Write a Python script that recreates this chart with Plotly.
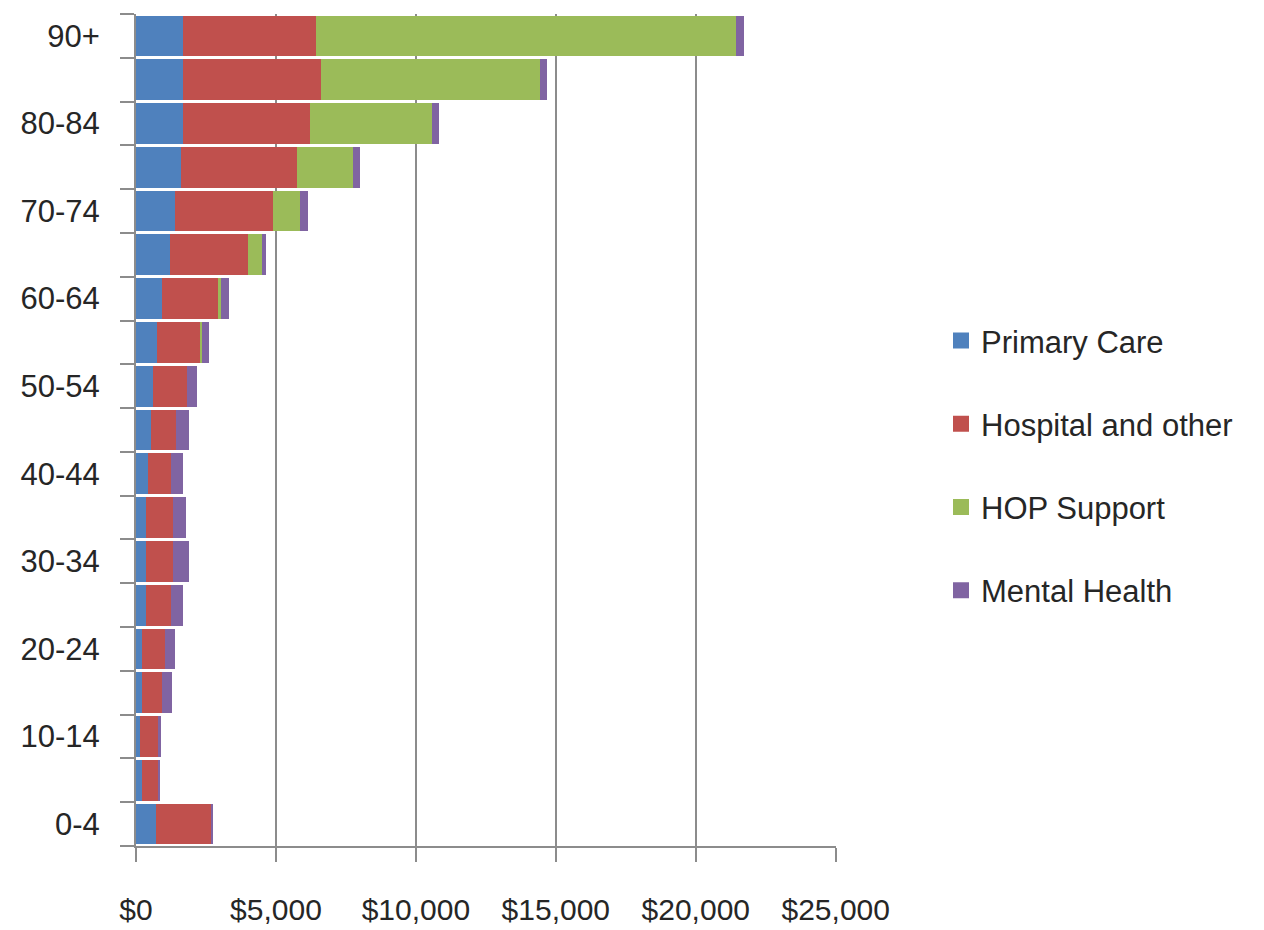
import plotly.graph_objects as go

categories = ["0-4", "5-9", "10-14", "15-19", "20-24", "25-29", "30-34", "35-39",
              "40-44", "45-49", "50-54", "55-59", "60-64", "65-69", "70-74",
              "75-79", "80-84", "85-89", "90+"]

primary_care = [710, 230, 140, 230, 230, 360, 360, 360, 440, 540, 620, 740, 920,
                1210, 1400, 1600, 1690, 1690, 1690]
hospital_other = [1970, 570, 640, 710, 810, 880, 950, 950, 800, 880, 1190, 1550,
                  2020, 2800, 3480, 4140, 4520, 4920, 4730]
hop_support = [0, 0, 0, 0, 0, 0, 0, 0, 0, 0, 0, 70, 80, 480, 980, 2020, 4350,
               7820, 15030]
mental_health = [60, 30, 110, 360, 350, 450, 580, 460, 450, 470, 360, 260, 300,
                 160, 270, 260, 270, 260, 260]

series = [
    ("Primary Care", primary_care, "#4F81BD"),
    ("Hospital and other", hospital_other, "#C0504D"),
    ("HOP Support", hop_support, "#9BBB59"),
    ("Mental Health", mental_health, "#8064A2"),
]

x_tickvals = [0, 5000, 10000, 15000, 20000, 25000]
x_ticktext = ["$0", "$5,000", "$10,000", "$15,000", "$20,000", "$25,000"]

FONT = "Liberation Sans, Arial, sans-serif"
TEXT = "#262626"
GRID = "#8C8C8C"

fig = go.Figure()
for name, vals, color in series:
    fig.add_trace(go.Bar(
        y=categories, x=vals, name=name, orientation="h",
        marker=dict(color=color, line=dict(width=0)),
        showlegend=False,
    ))
    # legend-only entry with a larger square swatch
    fig.add_trace(go.Scatter(
        x=[None], y=[None], mode="markers", name=name,
        marker=dict(symbol="square", size=16, color=color),
        legendgroup=name, showlegend=True,
    ))

y_ticktext = [c if i % 2 == 0 else "" for i, c in enumerate(categories)]

fig.update_layout(
    width=1256, height=922,
    barmode="stack", bargap=0.07,
    paper_bgcolor="white", plot_bgcolor="white",
    margin=dict(l=128, r=428, t=6, b=84),
    font=dict(family=FONT, color=TEXT),
    legend=dict(
        x=1.15, y=0.457, xanchor="left", yanchor="middle",
        font=dict(size=31, family=FONT, color=TEXT),
        traceorder="grouped", tracegroupgap=40,
        itemwidth=30, bgcolor="rgba(0,0,0,0)",
    ),
    xaxis=dict(
        range=[0, 25010], tickmode="array", tickvals=x_tickvals, ticktext=x_ticktext,
        showgrid=True, gridcolor=GRID, gridwidth=2,
        showline=True, linecolor=GRID, linewidth=2,
        ticks="outside", ticklen=14, tickwidth=2, tickcolor=GRID,
        tickfont=dict(size=30, family=FONT, color=TEXT),
        tickangle=0, ticklabelstandoff=22, zeroline=False, automargin=False,
    ),
    yaxis=dict(
        type="category", categoryorder="array", categoryarray=categories,
        tickmode="array", tickvals=categories, ticktext=y_ticktext,
        tickson="boundaries",
        showgrid=False, showline=True, linecolor=GRID, linewidth=2,
        ticks="outside", ticklen=14, tickwidth=2, tickcolor=GRID,
        tickfont=dict(size=31, family=FONT, color=TEXT),
        ticklabelstandoff=28, automargin=False,
    ),
    showlegend=True,
)

fig.write_html("out.html")
